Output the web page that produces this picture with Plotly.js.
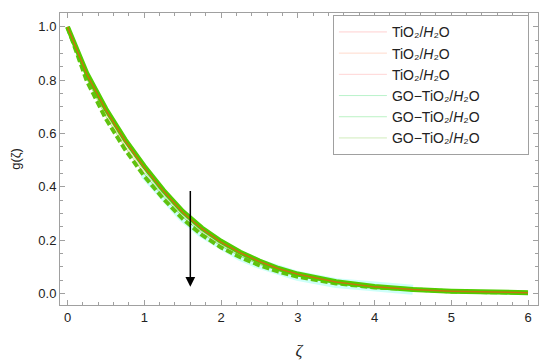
<!DOCTYPE html>
<html>
<head>
<meta charset="utf-8">
<script src="https://cdn.plot.ly/plotly-3.0.1.min.js"></script>
<style>html,body{margin:0;padding:0;background:#fff;}#chart{width:550px;height:362px;}</style>
</head>
<body>
<div id="chart"></div>
<script>
// ζ grid and read-off values of g(ζ)
const zeta = [0, 0.25, 0.5, 0.75, 1.0, 1.25, 1.5, 1.75, 2.0, 2.25, 2.5, 2.75, 3.0, 3.5, 4.0, 4.5, 5.0, 5.5, 6.0];
const gTiO2_1 = [1.0, 0.823, 0.688, 0.573, 0.473, 0.384, 0.305, 0.243, 0.193, 0.153, 0.120, 0.093, 0.072, 0.043, 0.025, 0.015, 0.009, 0.005, 0.003];
const gTiO2_2 = [1.0, 0.812, 0.672, 0.556, 0.457, 0.370, 0.293, 0.232, 0.183, 0.145, 0.113, 0.088, 0.068, 0.040, 0.024, 0.014, 0.008, 0.005, 0.003];
const gTiO2_3 = [null, null, null, null, 0.450, 0.364, 0.288, 0.228, 0.180, 0.142, 0.111, 0.086, 0.066, 0.039, 0.023, 0.014, null, null, null];
const gGO_1 = [1.0, 0.826, 0.692, 0.577, 0.477, 0.387, 0.308, 0.246, 0.196, 0.155, 0.122, 0.094, 0.073, 0.044, 0.026, 0.015, 0.009, 0.005, 0.003];
const gGO_2 = [1.0, 0.798, 0.655, 0.540, 0.440, 0.355, 0.280, 0.220, 0.173, 0.136, 0.106, 0.082, 0.063, 0.038, 0.023, 0.014, 0.008, 0.005, 0.003];
const gGO_3 = [1.0, 0.805, 0.663, 0.548, 0.448, 0.362, 0.287, 0.226, 0.178, 0.140, 0.109, 0.085, 0.065, 0.039, 0.023, 0.014, 0.008, 0.005, 0.003];
const PAD = '\u00a0'.repeat(11);
const legendNames = [
  'TiO\u2082/<i>H</i>\u2082O' + PAD,
  'TiO\u2082/<i>H</i>\u2082O' + PAD,
  'TiO\u2082/<i>H</i>\u2082O' + PAD,
  'GO\u2212TiO\u2082/<i>H</i>\u2082O' + PAD,
  'GO\u2212TiO\u2082/<i>H</i>\u2082O' + PAD,
  'GO\u2212TiO\u2082/<i>H</i>\u2082O' + PAD
];
const arrowZeta = 1.6, arrowFrom = 0.39, arrowTo = 0.025;

const drawn = [
  {x: zeta, y: gTiO2_3, mode: 'lines', line: {color: 'rgba(200,255,248,0.9)', width: 10}, showlegend: false, hoverinfo: 'skip'},
  {x: zeta, y: gGO_2, mode: 'lines', line: {color: 'rgb(95,195,15)', width: 4, dash: '7px,3px'}, showlegend: false},
  {x: zeta, y: gTiO2_2, mode: 'lines', line: {color: 'rgba(230,150,40,0.35)', width: 1}, showlegend: false},
  {x: zeta, y: gGO_3, mode: 'lines', line: {color: 'rgba(110,190,20,0.5)', width: 1}, showlegend: false},
  {x: zeta, y: gGO_1, mode: 'lines', line: {color: 'rgb(80,205,0)', width: 5}, showlegend: false},
  {x: zeta, y: gTiO2_1, mode: 'lines', line: {color: 'rgba(245,80,20,0.7)', width: 1.5}, showlegend: false}
];
const legendColors = ['rgba(255,120,120,0.35)','rgba(255,150,110,0.35)','rgba(255,120,120,0.3)','rgba(60,220,110,0.35)','rgba(60,220,90,0.35)','rgba(120,200,60,0.35)'];
const legendTraces = legendNames.map((n, i) => ({x: [null], y: [null], mode: 'lines', name: n, line: {color: legendColors[i], width: 1}}));

const axisCommon = {
  showline: true, linecolor: '#a0a0a0', linewidth: 1, mirror: 'ticks',
  ticks: 'inside', ticklen: 5, tickcolor: '#a0a0a0', zeroline: false, showgrid: false,
  tickfont: {family: 'Liberation Sans, Arial, sans-serif', size: 13, color: '#222'}
};
const layout = {
  width: 550, height: 362,
  margin: {l: 60, r: 12, t: 13, b: 57},
  paper_bgcolor: '#fff', plot_bgcolor: '#fff',
  showlegend: true,
  legend: {x: 0.981, xanchor: 'right', y: 0.992, yanchor: 'top', bordercolor: '#a0a0a0', borderwidth: 1, bgcolor: '#fff',
    font: {family: 'Liberation Sans, Arial, sans-serif', size: 14, color: '#222'}, itemwidth: 48, tracegroupgap: 0},
  xaxis: Object.assign({}, axisCommon, {range: [-0.098, 6.13], dtick: 1, tick0: 0,
    minor: {dtick: 0.2, ticks: 'inside', ticklen: 3, tickcolor: '#a0a0a0'},
    title: {text: '<i>ζ</i>', font: {family: 'Liberation Serif, Times New Roman, serif', size: 17, color: '#222'}, standoff: 20}}),
  yaxis: Object.assign({}, axisCommon, {range: [-0.043, 1.052], dtick: 0.2, tick0: 0, tickformat: '.1f',
    minor: {dtick: 0.05, ticks: 'inside', ticklen: 3, tickcolor: '#a0a0a0'},
    title: {text: 'g(ζ)', font: {family: 'Liberation Sans, Arial, sans-serif', size: 13, color: '#222'}, standoff: 14}}),
  annotations: [{x: arrowZeta, y: arrowTo, ax: arrowZeta, ay: arrowFrom, xref: 'x', yref: 'y', axref: 'x', ayref: 'y',
    text: '', showarrow: true, arrowhead: 2, arrowsize: 1.3, arrowwidth: 1.5, arrowcolor: '#000'}]
};
Plotly.newPlot('chart', drawn.concat(legendTraces), layout, {displayModeBar: false, staticPlot: true});
</script>
</body>
</html>
